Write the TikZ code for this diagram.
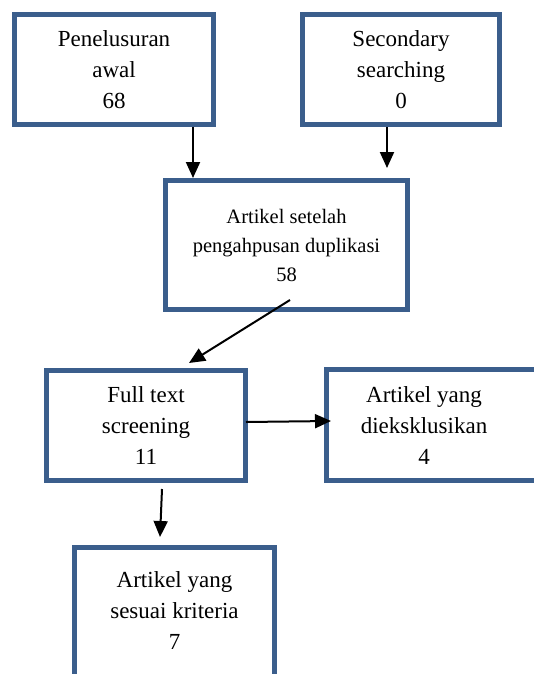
\documentclass[tikz,border=0pt]{standalone}
\usepackage{fontspec}
\setmainfont{Liberation Serif}
\usepackage{xcolor}
\usetikzlibrary{arrows.meta,positioning,calc}
\definecolor{boxblue}{RGB}{59,94,140}

\begin{document}
\begin{tikzpicture}[x=1pt,y=-1pt,
    box/.style={draw=boxblue, line width=5pt, rectangle, inner sep=0pt},
    txt/.style={align=center, font=\fontsize{23}{31}\selectfont},
    arr/.style={-{Triangle[length=16pt,width=14pt]}, line width=2pt}]
    \useasboundingbox (0,0) rectangle (534,674);
    \clip (0,0) rectangle (534,674);

    % sources
    \node[box, txt, minimum width=199pt, minimum height=110pt] (pen) at (114,69.5) {Penelusuran\\awal\\68};
    \node[box, txt, minimum width=197pt, minimum height=110pt] (sec) at (401,69.5) {Secondary\\searching\\0};

    % after duplicates removed
    \node[box, txt, font=\fontsize{20.5}{29}\selectfont, minimum width=242pt, minimum height=129pt] (dup) at (286.5,245) {Artikel setelah\\pengahpusan duplikasi\\58};

    % screening
    \node[box, txt, minimum width=199pt, minimum height=110pt] (ft) at (146,425.5) {Full text\\screening\\11};
    \node[box, minimum width=400pt, minimum height=111pt] (excl) at (526.5,425) {};
    \node[txt] (exclt) at (424,426) {Artikel yang\\dieksklusikan\\4};

    % included
    \node[box, minimum width=200pt, minimum height=180pt] (inc) at (174.5,637.5) {};
    \node[txt] (inct) at (174.5,611) {Artikel yang\\sesuai kriteria\\7};

    % arrows
    \draw[arr] ([xshift=79]pen.south) -- ([xshift=-93.5]dup.north);
    \draw[arr] ([xshift=-14]sec.south) -- ([xshift=100.5,yshift=10]dup.north);
    \draw[arr] ([xshift=3.5,yshift=12]dup.south) -- ([xshift=43,yshift=5]ft.north);
    \draw[arr] ([xshift=-2,yshift=3.5]ft.east) -- ([xshift=7,yshift=4]excl.west);
    \draw[arr] ([xshift=16,yshift=-6]ft.south) -- ([xshift=-14.5,yshift=8]inc.north);
\end{tikzpicture}
\end{document}
